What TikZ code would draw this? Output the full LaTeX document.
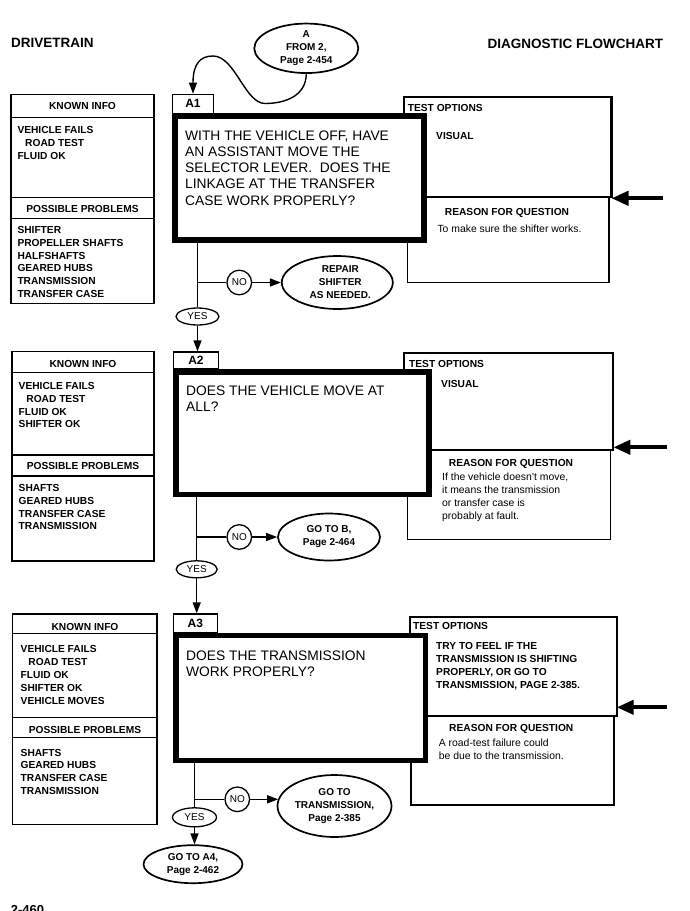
\documentclass[tikz,border=0pt]{standalone}
\usepackage{fontspec}
\setmainfont{Liberation Sans}
\usetikzlibrary{shapes.geometric,arrows.meta}
\newcommand{\ltab}[1]{\begin{tabular}[t]{@{}l@{}}#1\end{tabular}}
\begin{document}
\begin{tikzpicture}[x=1pt,y=-1pt,
  hdr/.style={font=\fontsize{10.2}{12.7}\selectfont\bfseries, inner sep=0pt, anchor=base},
  lst/.style={font=\fontsize{10.2}{12.7}\selectfont\bfseries, inner sep=0pt, anchor=base west},
  lstb/.style={font=\fontsize{10.2}{13}\selectfont\bfseries, inner sep=0pt, anchor=base west},
  rsn/.style={font=\fontsize{10.4}{13}\selectfont, inner sep=0pt, anchor=base west},
  qtxt/.style={font=\fontsize{13.8}{16.1}\selectfont, inner sep=0pt, anchor=base west},
  ttl/.style={font=\fontsize{13.5}{16}\selectfont\bfseries, inner sep=0pt},
  kbox/.style={line width=1.5pt},
  tobox/.style={line width=2.2pt},
  rbox/.style={line width=1.3pt},
  qbox/.style={draw, line width=5.5pt, fill=white, inner sep=0pt},
  labbox/.style={draw, line width=1.3pt, fill=white, inner sep=0pt, font=\fontsize{12}{14}\selectfont\bfseries},
  ovl/.style={draw, ellipse, line width=1.7pt, inner sep=0pt, align=center, font=\fontsize{10}{13}\selectfont\bfseries},
  yesn/.style={draw, ellipse, line width=1.3pt, inner sep=0pt, font=\fontsize{10}{12}\selectfont},
  non/.style={draw, circle, line width=1.3pt, inner sep=0pt, minimum size=24.6pt, font=\fontsize{10}{12}\selectfont},
  conn/.style={line width=1.4pt},
  arr/.style={-{Triangle[length=11pt,width=8pt]}},
  bigarr/.style={line width=4pt, -{Triangle[length=17pt,width=14pt]}}
]
\useasboundingbox (0,0) rectangle (689,911);

% titles
\node[ttl, anchor=base west] (t1) at (11,47.5) {DRIVETRAIN};
\node[ttl, anchor=base east] (t2) at (663.3,48.8) {DIAGNOSTIC FLOWCHART};

% entry oval
\node[ovl, minimum width=104pt, minimum height=45pt] (ovA) at (306.3,48.3) {A\\FROM 2,\\Page 2-454};

%================ A1 =================
\draw[kbox] (11,94.3) rectangle (154,303.3);
\draw[kbox] (11,117.3) -- (154,117.3);
\draw[kbox] (11,197.3) -- (154,197.3);
\draw[kbox] (11,218.3) -- (154,218.3);
\node[hdr] (k1h) at (82.5,109.7) {KNOWN INFO};
\node[lst] (k1l) at (17.3,133.7) {\ltab{VEHICLE FAILS\\\hspace*{7.7pt}ROAD TEST\\FLUID OK}};
\node[hdr] (p1h) at (82.5,212.7) {POSSIBLE PROBLEMS};
\node[lst] (p1l) at (17.3,233.7) {\ltab{SHIFTER\\PROPELLER SHAFTS\\HALFSHAFTS\\GEARED HUBS\\TRANSMISSION\\TRANSFER CASE}};

\draw[rbox] (407.3,197.3) rectangle (609,282.7);
\draw[tobox] (404,97.3) rectangle (611.5,197.3);
\node[lst] (to1h) at (407.7,111) {TEST OPTIONS};
\node[lst] (to1t) at (436,139.4) {VISUAL};
\node[hdr] (r1h) at (507,215.4) {REASON FOR QUESTION};
\node[rsn] (r1t) at (437.3,232.4) {To make sure the shifter works.};
\coordinate (s1a) at (663,198.3);
\coordinate (s1b) at (611.5,198.3);
\draw[bigarr] (s1a) -- (s1b);

\node[labbox, minimum width=40.6pt, minimum height=19pt] (lab1) at (193,103.8) {A1};
\node[qbox, minimum width=249pt, minimum height=123.7pt] (q1) at (299.7,177.9) {};
\node[qtxt, font=\fontsize{13.8}{16.25}\selectfont] (q1t) at (185,140) {\ltab{WITH THE VEHICLE OFF, HAVE\\AN ASSISTANT MOVE THE\\SELECTOR LEVER.\ \ DOES THE\\LINKAGE AT THE TRANSFER\\CASE WORK PROPERLY?}};

\draw[conn, arr] (ovA.south) .. controls (306,96) and (285,103.5) .. (265,103.5)
   .. controls (245,103.5) and (235,56) .. (213,56)
   .. controls (200,56) and (193,64) .. (lab1.north);

\node[yesn, minimum width=43pt, minimum height=17pt] (y1) at (197.5,316.5) {YES};
\node[non] (n1) at (239.3,282.5) {NO};
\node[ovl, minimum width=111pt, minimum height=53pt] (o1) at (337.3,282.5) {\hspace*{6pt}REPAIR\\\hspace*{6pt}SHIFTER\\\hspace*{6pt}AS NEEDED.};
\draw[conn] (q1.south -| y1.north) -- (y1.north);
\draw[conn] (n1 -| y1) -- (n1.west);
\draw[conn, arr] (n1.east) -- (o1.west);

%================ A2 =================
\draw[kbox] (12,351.7) rectangle (154,561);
\draw[kbox] (12,372.7) -- (154,372.7);
\draw[kbox] (12,455) -- (154,455);
\draw[kbox] (12,476) -- (154,476);
\node[hdr] (k2h) at (83,367) {KNOWN INFO};
\node[lst] (k2l) at (18.5,389.7) {\ltab{VEHICLE FAILS\\\hspace*{7.7pt}ROAD TEST\\FLUID OK\\SHIFTER OK}};
\node[hdr] (p2h) at (83,469.7) {POSSIBLE PROBLEMS};
\node[lst] (p2l) at (18.5,491.7) {\ltab{SHAFTS\\GEARED HUBS\\TRANSFER CASE\\TRANSMISSION}};

\draw[rbox] (407.3,450) rectangle (610.7,539.3);
\draw[tobox] (404,353.3) rectangle (613.3,450);
\node[lst] (to2h) at (409,367) {TEST OPTIONS};
\node[lst] (to2t) at (441,387) {VISUAL};
\node[hdr] (r2h) at (511,466.4) {REASON FOR QUESTION};
\node[rsn] (r2t) at (442,480.4) {\ltab{If the vehicle doesn't move,\\it means the transmission\\or transfer case is\\probably at fault.}};
\coordinate (s2a) at (666.7,447.3);
\coordinate (s2b) at (613.3,447.3);
\draw[bigarr] (s2a) -- (s2b);

\node[labbox, minimum width=45pt, minimum height=17pt] (lab2) at (196,360.5) {A2};
\node[qbox, minimum width=253pt, minimum height=122.5pt] (q2) at (302.5,433) {};
\node[qtxt] (q2t) at (186,395.5) {\ltab{DOES THE VEHICLE MOVE AT\\ALL?}};

\node[yesn, minimum width=41pt, minimum height=17pt] (y2) at (196.7,569.3) {YES};
\node[non] (n2) at (239.3,537) {NO};
\node[ovl, minimum width=102pt, minimum height=47pt] (o2) at (329,537) {GO TO B,\\Page 2-464};
\draw[conn, arr] (y1.south) -- (lab2.north -| y1.south);
\draw[conn] (q2.south -| y2.north) -- (y2.north);
\draw[conn] (n2 -| y2) -- (n2.west);
\draw[conn, arr] (n2.east) -- (o2.west);

%================ A3 =================
\draw[kbox] (12.7,614) rectangle (157,824.3);
\draw[kbox] (12.7,633.3) -- (157,633.3);
\draw[kbox] (12.7,717.7) -- (157,717.7);
\draw[kbox] (12.7,737.7) -- (157,737.7);
\node[hdr] (k3h) at (85,630.4) {KNOWN INFO};
\node[lstb] (k3l) at (20.5,652) {\ltab{VEHICLE FAILS\\\hspace*{7.7pt}ROAD TEST\\FLUID OK\\SHIFTER OK\\VEHICLE MOVES}};
\node[hdr] (p3h) at (85,733.7) {POSSIBLE PROBLEMS};
\node[lst] (p3l) at (20.5,756) {\ltab{SHAFTS\\GEARED HUBS\\TRANSFER CASE\\TRANSMISSION}};

\draw[rbox] (411,716) rectangle (614,805);
\draw[tobox] (410,616.7) rectangle (616.7,716);
\node[lst] (to3h) at (413,629.7) {TEST OPTIONS};
\node[lstb] (to3t) at (436,649.7) {\ltab{TRY TO FEEL IF THE\\TRANSMISSION IS SHIFTING\\PROPERLY, OR GO TO\\TRANSMISSION, PAGE 2-385.}};
\node[hdr] (r3h) at (511.3,731) {REASON FOR QUESTION};
\node[rsn, font=\fontsize{10.4}{12.6}\selectfont] (r3t) at (438.7,746.4) {\ltab{A road-test failure could\\be due to the transmission.}};
\coordinate (s3a) at (667.3,707.3);
\coordinate (s3b) at (616.7,707.3);
\draw[bigarr] (s3a) -- (s3b);

\node[labbox, minimum width=44pt, minimum height=18.7pt] (lab3) at (195.3,623.35) {A3};
\node[qbox, minimum width=249.5pt, minimum height=125pt] (q3) at (300.8,698) {};
\node[qtxt, font=\fontsize{13.8}{15.7}\selectfont] (q3t) at (186,660.3) {\ltab{DOES THE TRANSMISSION\\WORK PROPERLY?}};

\node[yesn, minimum width=44pt, minimum height=19pt] (y3) at (194.5,817.3) {YES};
\node[non] (n3) at (237.3,799.3) {NO};
\node[ovl, minimum width=114pt, minimum height=62pt] (o3) at (334.5,806) {GO TO\\TRANSMISSION,\\Page 2-385};
\node[ovl, minimum width=99pt, minimum height=38pt] (o4) at (193,864.2) {GO TO A4,\\Page 2-462};
\draw[conn, arr] (y2.south) -- (lab3.north -| y2.south);
\draw[conn] (q3.south -| y3.north) -- (y3.north);
\draw[conn] (n3 -| y3) -- (n3.west);
\draw[conn, arr] (n3.east) -- ([xshift=1.5pt]o3.west |- n3.east);
\draw[conn, arr] (y3.south) -- (o4.north -| y3.south);

% page number (cut by the page edge)
\node[font=\fontsize{13}{15}\selectfont\bfseries, anchor=base west, inner sep=0pt] (pg) at (10.7,914) {2-460};
\end{tikzpicture}
\end{document}
